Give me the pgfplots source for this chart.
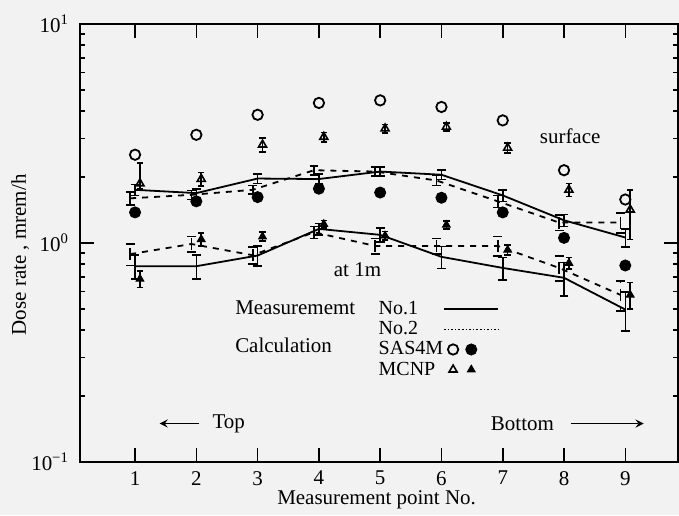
\documentclass[border=0pt]{standalone}
\usepackage{fontspec}
\setmainfont{Liberation Serif}
\usepackage{pgfplots}
\usepackage{pgfplotstable}
\pgfplotsset{compat=1.18}
\pagecolor[gray]{0.95}

% measurement No.1 / No.2 (x, value, error)
\pgfplotstableread{
x y e
1 1.75 0.10
2 1.69 0.08
3 1.97 0.10
4 1.96 0.10
5 2.12 0.10
6 2.05 0.10
7 1.65 0.10
8 1.27 0.08
9 1.06 0.10
}\surfA
\pgfplotstableread{
x y e
0.92 1.60 0.11
1.92 1.66 0.08
2.92 1.75 0.08
3.92 2.15 0.10
4.92 2.12 0.10
5.92 1.93 0.10
6.92 1.55 0.10
7.92 1.24 0.10
8.92 1.24 0.13
}\surfB
\pgfplotstableread{
x y e
1 0.784 0.10
2 0.784 0.10
3 0.877 0.09
4 1.16 0.07
5 1.09 0.08
6 0.865 0.10
7 0.77 0.09
8 0.694 0.12
9 0.497 0.10
}\oneA
\pgfplotstableread{
x y e
0.92 0.89 0.10
1.92 0.99 0.08
2.92 0.88 0.08
3.92 1.12 0.07
4.92 0.97 0.08
5.92 0.97 0.08
6.92 0.97 0.10
7.92 0.77 0.10
8.92 0.58 0.09
}\oneB

% SAS4M: open = surface, filled = 1 m
\pgfplotstableread{
x open filled
1 2.53 1.38
2 3.12 1.55
3 3.85 1.62
4 4.36 1.77
5 4.48 1.70
6 4.18 1.61
7 3.63 1.38
8 2.15 1.056
9 1.58 0.79
}\sas

% MCNP: open = surface, filled = 1 m
\pgfplotstableread{
x y ep em
1.08 1.87 0.45 0.10
2.08 1.96 0.14 0.14
3.08 2.81 0.20 0.20
4.08 3.05 0.15 0.15
5.08 3.33 0.15 0.15
6.08 3.39 0.15 0.15
7.08 2.72 0.15 0.15
8.08 1.75 0.12 0.12
9.08 1.42 0.33 0.38
}\mcnpS
\pgfplotstableread{
x y e
1.08 0.686 0.06
2.08 1.04 0.07
3.08 1.07 0.05
4.08 1.22 0.05
5.08 1.08 0.05
6.08 1.21 0.05
7.08 0.93 0.05
8.08 0.81 0.05
9.08 0.58 0.08
}\mcnpO

\begin{document}
\begin{tikzpicture}[font=\fontsize{10.5}{12}\selectfont]
\begin{axis}[
    scale only axis,
    width=299.5pt, height=219.4pt,
    ymode=log, ymin=0.1, ymax=10,
    xmin=0.1, xmax=9.86,
    clip=false,
    xtick={1,...,9},
    xticklabels={1,2,3,4,5,6,7,8,9},
    ytick={0.1,1,10},
    yticklabels={10\textsuperscript{−1},10\textsuperscript{0},10\textsuperscript{1}},
    tick align=inside,
    major tick length=7pt,
    minor tick length=2.6pt,
    every tick/.style={black, line width=0.8pt},
    axis line style={line width=1pt},
    tick label style={font=\fontsize{10.5}{12}\selectfont},
    xticklabel style={yshift=-1pt},
    yticklabel style={xshift=-2pt},
    xlabel={Measurement point No.},
    ylabel={Dose rate , mrem/h},
    label style={font=\fontsize{10.5}{12}\selectfont},
    xlabel style={at={(axis description cs:0.496,-0.085)}, anchor=center},
    ylabel style={at={(axis description cs:-0.100,0.473)}, anchor=center},
    legend style={draw=none, fill=none, font=\fontsize{10}{12}\selectfont,
        at={(axis cs:4.97,0.548)}, anchor=north west, inner sep=0pt,
        row sep=1.6pt,
        nodes={inner sep=0pt, text height=7pt, text depth=1.5pt}},
    legend cell align=left,
    legend plot pos=right,
    meas/.style={black, line width=0.9pt, forget plot,
        error bars/y dir=both, error bars/y explicit,
        error bars/error bar style={line width=0.8pt},
        error bars/error mark options={rotate=90, mark size=2.2pt, line width=0.8pt}},
    calc/.style={only marks, mark size=2.3pt, forget plot,
        error bars/y dir=both, error bars/y explicit,
        error bars/error bar style={line width=0.8pt},
        error bars/error mark options={rotate=90, mark size=1.6pt, line width=0.8pt}},
]
% invisible extent of the page
\path (axis description cs:-0.1336,1.0547) (axis description cs:1,-0.1192);

% measurement, surface
\addplot[meas] table[x=x, y=y, y error=e] {\surfA};
\addplot[meas, dashed] table[x=x, y=y, y error=e] {\surfB};
% measurement, 1 m
\addplot[meas] table[x=x, y=y, y error=e] {\oneA};
\addplot[meas, dashed] table[x=x, y=y, y error=e] {\oneB};

% SAS4M
\addplot[black, only marks, mark=o, mark size=2.6pt, mark options={line width=0.9pt}, forget plot]
    table[x=x, y=open] {\sas};
\addplot[black, only marks, mark=*, mark size=2.8pt, forget plot]
    table[x=x, y=filled] {\sas};

% MCNP
\addplot[black, calc, mark=triangle, mark options={line width=0.8pt}]
    table[x=x, y=y, y error plus=ep, y error minus=em] {\mcnpS};
\addplot[black, calc, mark=triangle*]
    table[x=x, y=y, y error=e] {\mcnpO};

% legend
\addlegendimage{legend image code/.code={\draw[black, line width=0.9pt] (0.3cm,0cm) -- (1.25cm,0cm);}}
\addlegendentry{No.1}
\addlegendimage{legend image code/.code={\draw[black, line width=0.8pt, densely dotted] (0.3cm,0cm) -- (1.25cm,0cm);}}
\addlegendentry{No.2}
\addlegendimage{legend image code/.code={
    \draw[black, line width=0.9pt] (0.46cm,0cm) circle (2.6pt);
    \fill[black] (0.78cm,0cm) circle (2.8pt);}}
\addlegendentry{SAS4M}
\addlegendimage{legend image code/.code={
    \draw[black, line width=0.8pt] (0.46cm,2.3pt) -- (0.46cm-2pt,-1.15pt) -- (0.46cm+2pt,-1.15pt) -- cycle;
    \fill[black] (0.78cm,2.3pt) -- (0.78cm-2pt,-1.15pt) -- (0.78cm+2pt,-1.15pt) -- cycle;}}
\addlegendentry{MCNP}

% annotations
\node at (axis cs:8.1,3.06) {surface};
\node at (axis cs:4.63,0.757) {at 1m};
\node[anchor=west] at (axis cs:2.52,0.505) {Measurememt};
\node[anchor=west] at (axis cs:2.52,0.340) {Calculation};
\draw[->, >=stealth, line width=0.8pt] (axis cs:2.05,0.150) -- (axis cs:1.40,0.150);
\node[anchor=west] at (axis cs:2.15,0.150) {Top};
\node[anchor=east] at (axis cs:7.95,0.150) {Bottom};
\draw[->, >=stealth, line width=0.8pt] (axis cs:8.11,0.150) -- (axis cs:9.30,0.150);
\end{axis}
\end{tikzpicture}
\end{document}
